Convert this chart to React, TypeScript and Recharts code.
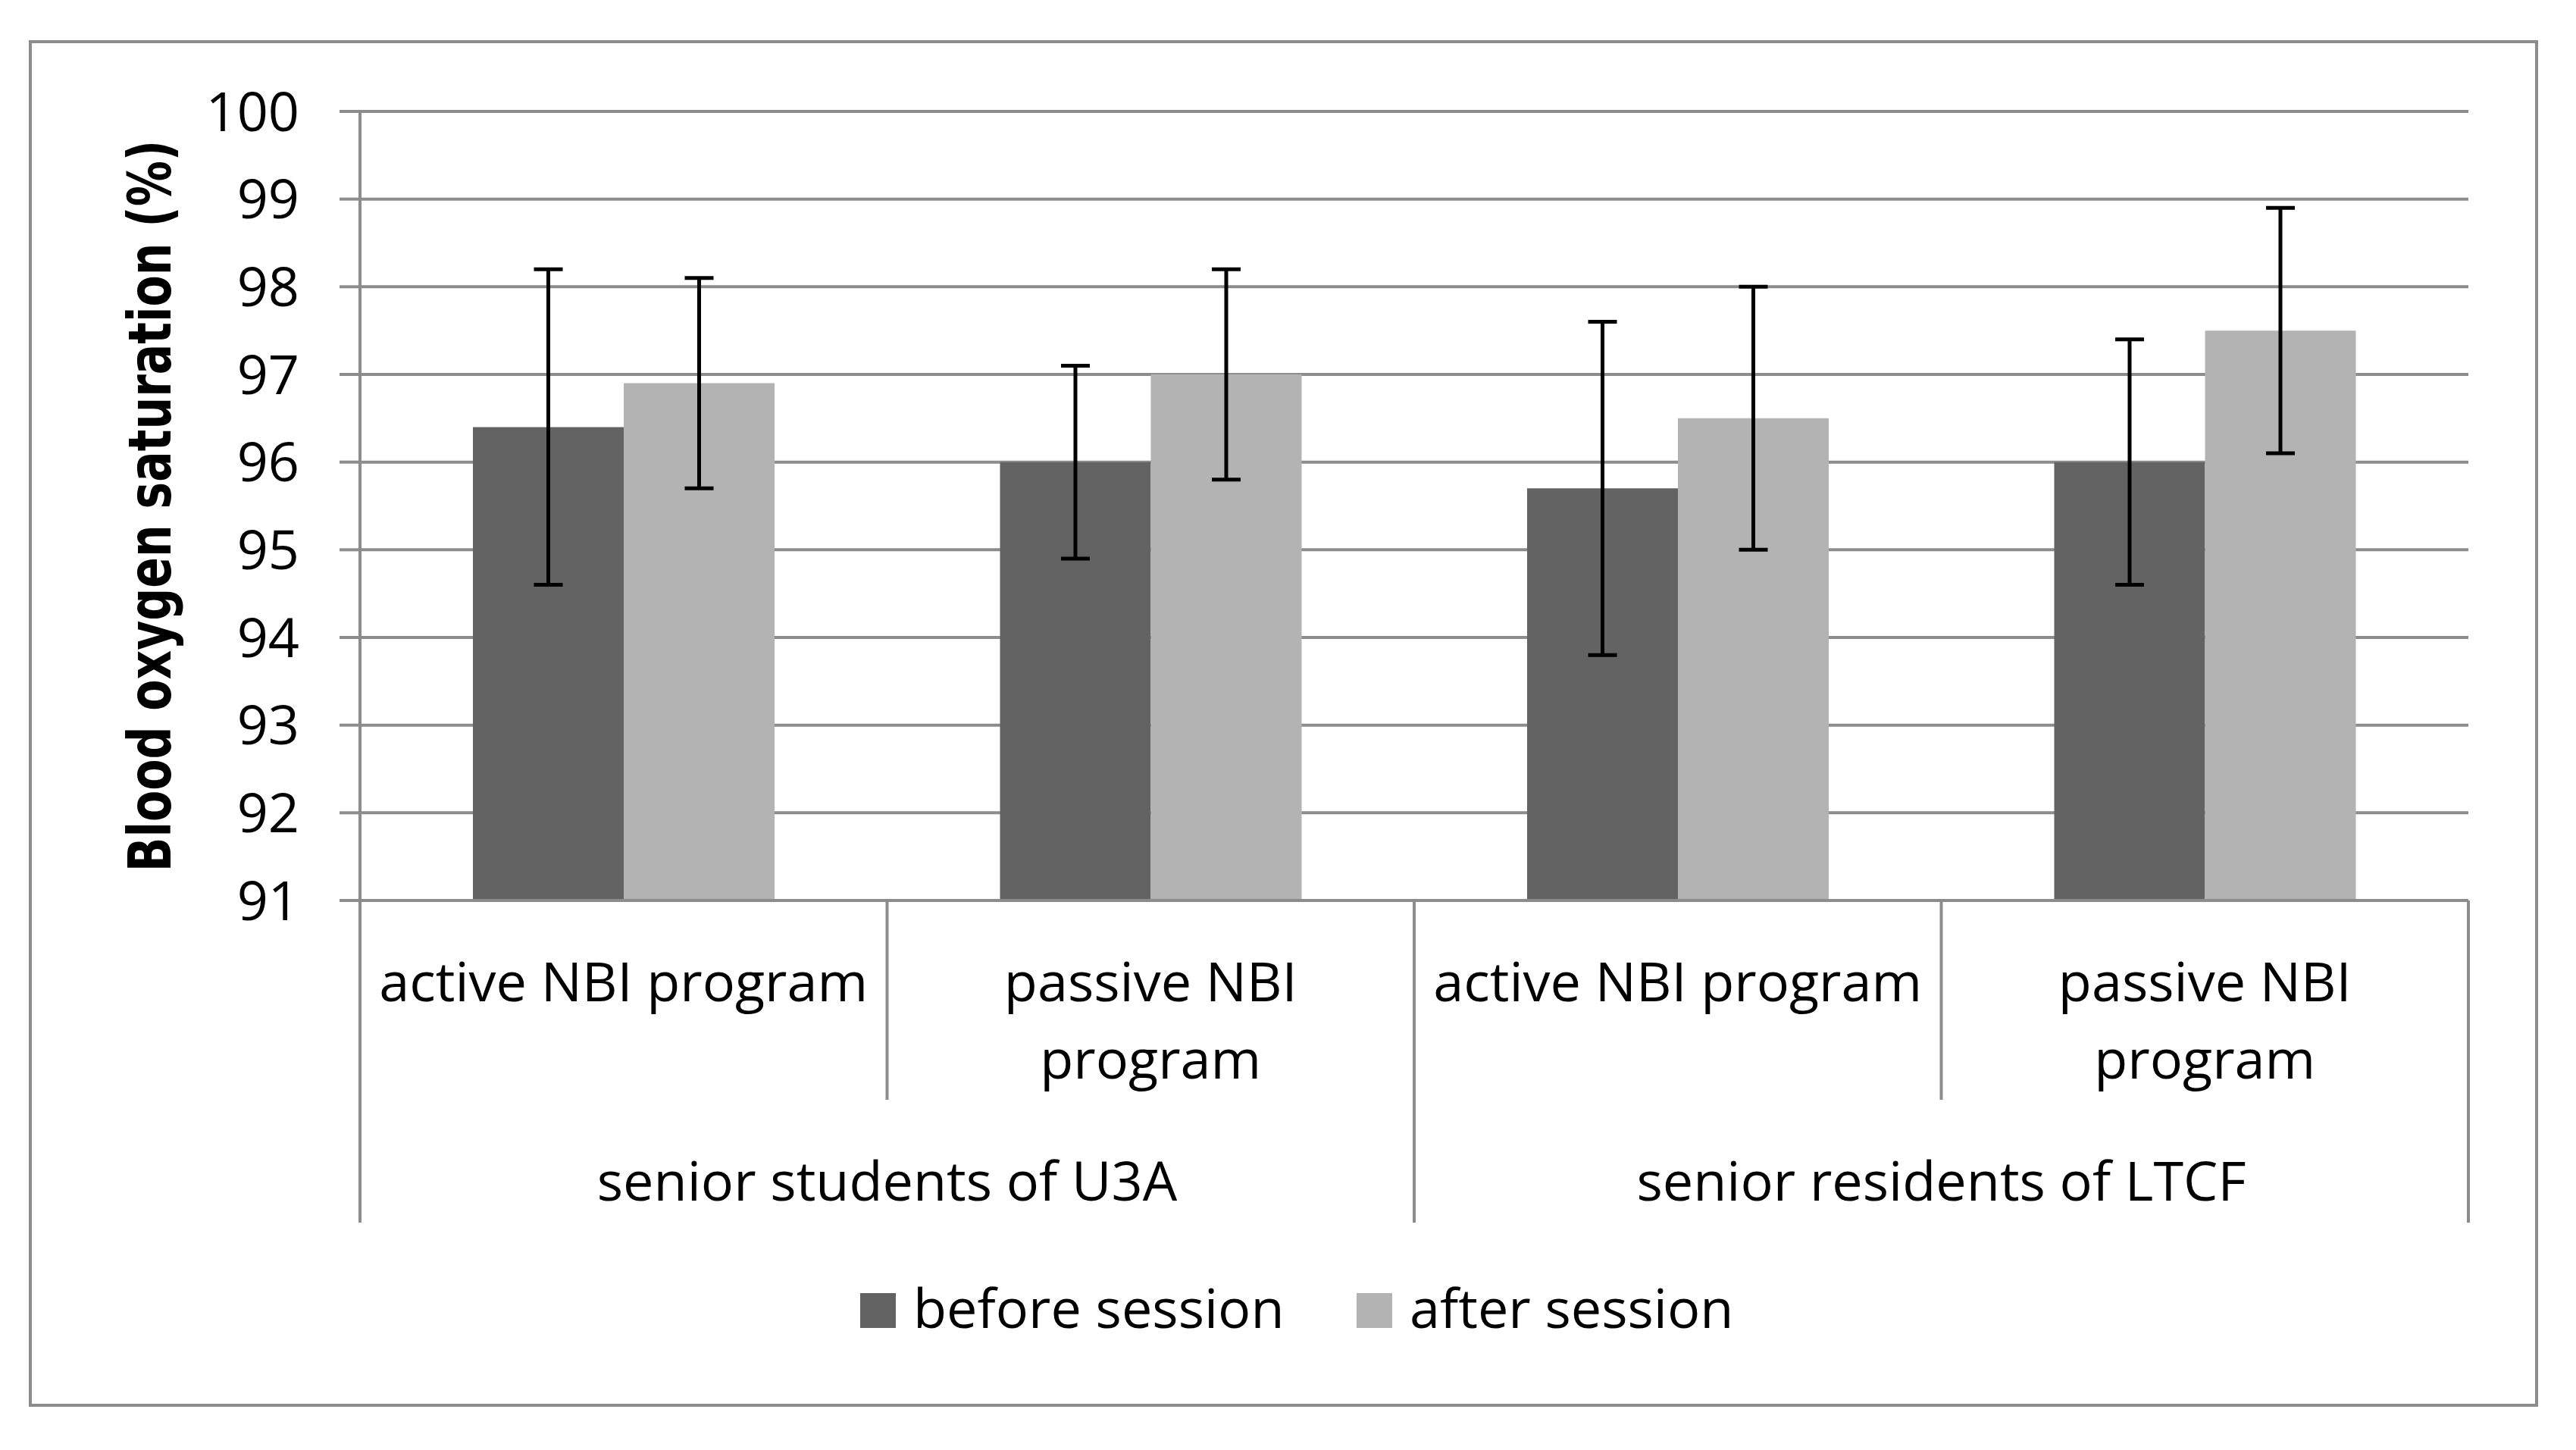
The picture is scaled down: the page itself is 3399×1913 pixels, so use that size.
import React from 'react';
import { BarChart, Bar, XAxis, YAxis, CartesianGrid, ErrorBar, Legend } from 'recharts';

// ---- data ----
const categories = ['active NBI program', 'passive NBI program', 'active NBI program', 'passive NBI program'];
const categoryLines = [['active NBI program'], ['passive NBI', 'program'], ['active NBI program'], ['passive NBI', 'program']];
const groups = ['senior students of U3A', 'senior residents of LTCF'];
const beforeSession = [96.4, 96.0, 95.7, 96.0];
const afterSession = [96.9, 97.0, 96.5, 97.5];
const beforeErr = [1.8, 1.1, 1.9, 1.4];
const afterErr = [1.2, 1.2, 1.5, 1.4];
const yTicks = [91, 92, 93, 94, 95, 96, 97, 98, 99, 100];
const seriesNames = ['before session', 'after session'];

const data = categories.map((c, i) => ({
  cat: c,
  before: beforeSession[i],
  after: afterSession[i],
  beforeErr: beforeErr[i],
  afterErr: afterErr[i],
}));

// ---- layout ----
const W = 3399;
const H = 1913;
const GRID = '#8c8c8c';
const DARK = '#636363';
const LIGHT = '#b3b3b3';
const FONT = '"Open Sans", sans-serif';
const Y_AXIS_W = 200;
const MARGIN = { top: 147, right: 142, bottom: 225, left: 275 };
const X_AXIS_H = 500;
const PLOT_W = W - MARGIN.left - Y_AXIS_W - MARGIN.right;
const BAND = PLOT_W / categories.length;

const CategoryTick = (props: any) => {
  const { x, y, index } = props;
  const half = BAND / 2;
  const lines = categoryLines[index] || [];
  const groupStart = index % 2 === 0;
  const isLast = index === categories.length - 1;
  return (
    <g>
      <line x1={x - half} x2={x - half} y1={y} y2={y + (groupStart ? 425 : 263)} stroke={GRID} strokeWidth={4} />
      {isLast && <line x1={x + half} x2={x + half} y1={y} y2={y + 425} stroke={GRID} strokeWidth={4} />}
      {lines.map((l: string, i: number) => (
        <text key={i} x={x} y={y + 133 + i * 102} textAnchor="middle" fontFamily={FONT} fontSize={72} fill="#000">
          {l}
        </text>
      ))}
      {groupStart && (
        <text x={x + half} y={y + 396} textAnchor="middle" fontFamily={FONT} fontSize={72} fill="#000">
          {groups[index / 2]}
        </text>
      )}
    </g>
  );
};

const LegendContent = (props: any) => {
  const payload = [...(props.payload || [])].sort(
    (a: any, b: any) => seriesNames.indexOf(a.value) - seriesNames.indexOf(b.value)
  );
  return (
    <svg width={1300} height={100} style={{ display: 'block', overflow: 'visible' }}>
      {payload.map((p: any, i: number) => {
        const x0 = i === 0 ? 0 : 655;
        return (
          <g key={i}>
            <rect x={x0} y={18} width={47} height={46} fill={p.color} />
            <text x={x0 + 70} y={64} fontFamily={FONT} fontSize={72} fill="#000">
              {p.value}
            </text>
          </g>
        );
      })}
    </svg>
  );
};

const YTitle = (props: any) => {
  const vb = props.viewBox || { x: 0, y: 0, width: 0, height: 0 };
  const cy = vb.y + vb.height / 2;
  return (
    <text
      transform={`translate(225 ${cy}) rotate(-90) scale(1 1.3)`}
      textAnchor="middle"
      fontFamily='"DejaVu Sans", sans-serif'
      fontWeight="bold"
      fontSize={60}
      fill="#000"
    >
      Blood oxygen saturation (%)
    </text>
  );
};

export default function App() {
  return (
    <div style={{ position: 'absolute', left: 0, top: 0, width: W, height: H, background: '#fff' }}>
      <div
        style={{
          position: 'absolute',
          left: 38,
          top: 53,
          width: 3311,
          height: 1803,
          border: `4px solid ${GRID}`,
          boxSizing: 'border-box',
        }}
      />
      <div style={{ position: 'absolute', left: 0, top: 0 }}>
        <BarChart width={W} height={H} data={data} margin={MARGIN} barGap={0} barSize={199}>
          <CartesianGrid vertical={false} stroke={GRID} strokeWidth={4} />
          <XAxis
            dataKey="cat"
            height={X_AXIS_H}
            interval={0}
            tickLine={false}
            tickSize={0}
            tickMargin={0}
            axisLine={{ stroke: GRID, strokeWidth: 4 }}
            tick={<CategoryTick />}
          />
          <YAxis
            width={Y_AXIS_W}
            domain={[91, 100]}
            ticks={yTicks}
            interval={0}
            tickSize={27}
            tickMargin={53}
            tickLine={{ stroke: GRID, strokeWidth: 4 }}
            axisLine={{ stroke: GRID, strokeWidth: 4 }}
            tick={{ fontSize: 72, fill: '#000', fontFamily: FONT }}
            label={{ content: (p: any) => <YTitle {...p} /> }}
          />
          <Legend
            layout="horizontal"
            verticalAlign="middle"
            align="center"
            content={<LegendContent />}
            wrapperStyle={{ position: 'absolute', left: 1135, top: 1688, width: 1300, height: 100 }}
          />
          <Bar dataKey="before" name={seriesNames[0]} fill={DARK} isAnimationActive={false}>
            <ErrorBar dataKey="beforeErr" width={19} strokeWidth={5} stroke="#000" direction="y" isAnimationActive={false} />
          </Bar>
          <Bar dataKey="after" name={seriesNames[1]} fill={LIGHT} isAnimationActive={false}>
            <ErrorBar dataKey="afterErr" width={19} strokeWidth={5} stroke="#000" direction="y" isAnimationActive={false} />
          </Bar>
        </BarChart>
      </div>
    </div>
  );
}
